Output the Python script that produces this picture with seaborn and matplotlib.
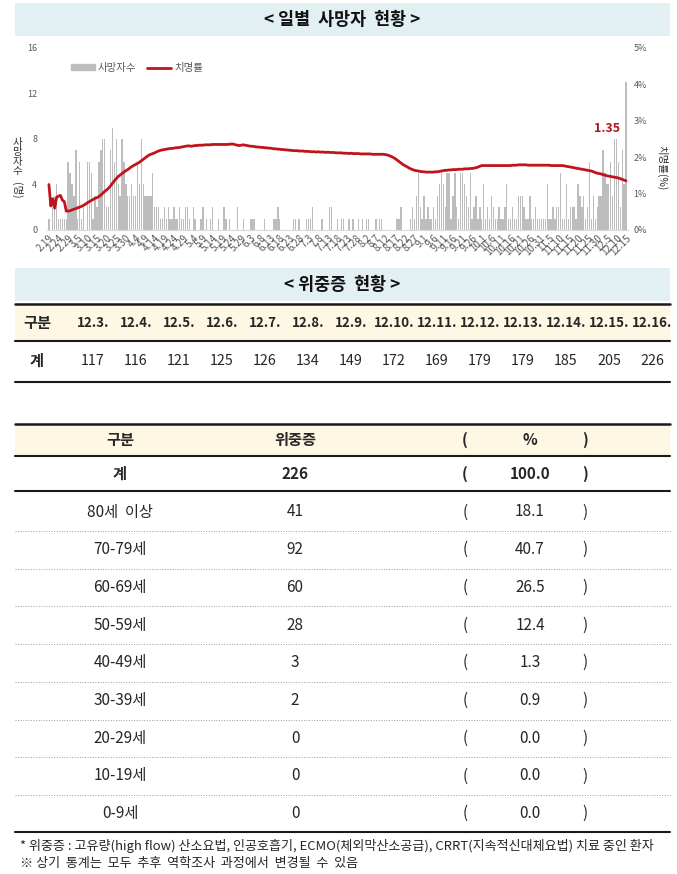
import numpy as np
import pandas as pd
import matplotlib
matplotlib.use('Agg')
import matplotlib.pyplot as plt
import seaborn as sns
from matplotlib.patches import Rectangle, Patch
from matplotlib.lines import Line2D

# daily deaths, 2.19 ~ 12.15
deaths_feb = [1, 0, 2, 3, 4, 1, 1, 1, 1, 1, 6]
deaths_mar = [5, 4, 3, 7, 1, 6, 1, 2, 0, 6, 6, 5, 1, 3, 2, 6, 7, 8, 8, 2, 2, 7, 9, 6, 8, 4, 3, 8, 6, 4, 3]
deaths_apr = [3, 4, 3, 3, 6, 4, 8, 4, 3, 3, 3, 3, 5, 2, 2, 2, 1, 1, 2, 1, 2, 1, 1, 2, 1, 1, 2, 1, 1, 2]
deaths_may = [2, 1, 0, 2, 1, 0, 0, 1, 2, 0, 1, 0, 1, 2, 0, 0, 1, 0, 0, 2, 1, 0, 1, 0, 0, 0, 2, 0, 0, 1, 0]
deaths_jun = [0, 0, 1, 1, 1, 0, 0, 0, 0, 1, 0, 0, 0, 0, 1, 1, 2, 1, 0, 0, 0, 0, 0, 0, 1, 1, 0, 1, 0, 0]
deaths_jul = [0, 1, 1, 1, 2, 0, 0, 0, 0, 1, 0, 0, 0, 2, 2, 0, 0, 1, 0, 1, 1, 0, 0, 1, 0, 1, 0, 0, 1, 0, 1]
deaths_aug = [0, 1, 1, 0, 0, 0, 1, 0, 1, 1, 0, 0, 0, 0, 0, 0, 0, 1, 1, 2, 0, 0, 0, 0, 1, 2, 1, 3, 5, 2, 1]
deaths_sep = [3, 1, 2, 1, 1, 2, 1, 3, 4, 5, 4, 2, 5, 5, 1, 3, 5, 2, 1, 5, 5, 4, 3, 2, 5, 1, 2, 3, 1, 2]
deaths_oct = [1, 4, 1, 2, 1, 3, 2, 1, 1, 2, 1, 1, 2, 4, 1, 1, 2, 1, 1, 3, 3, 3, 2, 1, 1, 3, 1, 1, 2, 1, 1]
deaths_nov = [1, 1, 1, 4, 1, 1, 2, 1, 2, 2, 5, 1, 1, 4, 1, 2, 2, 2, 1, 4, 3, 2, 3, 1, 2, 6, 1, 3, 1, 2]
deaths_dec = [3, 3, 7, 5, 4, 4, 6, 3, 8, 8, 6, 2, 7, 4, 13]

# case fatality rate (%)
cfr_feb = [1.25, 0.66, 0.86, 0.60, 0.90, 0.93, 0.95, 0.82, 0.78, 0.52, 0.52]
cfr_mar = [0.53, 0.55, 0.57, 0.59, 0.61, 0.63, 0.65, 0.68, 0.71, 0.75, 0.78, 0.81, 0.84, 0.87, 0.89, 0.92,
           0.96, 1.01, 1.06, 1.10, 1.15, 1.21, 1.28, 1.35, 1.41, 1.47, 1.51, 1.55, 1.59, 1.63, 1.66]
cfr_apr = [1.70, 1.74, 1.77, 1.80, 1.83, 1.86, 1.90, 1.94, 1.98, 2.02, 2.06, 2.08, 2.10, 2.12, 2.15,
           2.17, 2.19, 2.20, 2.21, 2.22, 2.23, 2.24, 2.24, 2.25, 2.26, 2.26, 2.27, 2.28, 2.29, 2.30]
cfr_may = [2.31, 2.31, 2.30, 2.31, 2.32, 2.32, 2.33, 2.33, 2.33, 2.34, 2.34, 2.34, 2.34, 2.35, 2.35, 2.35,
           2.35, 2.35, 2.35, 2.35, 2.35, 2.35, 2.36, 2.36, 2.36, 2.34, 2.33, 2.32, 2.33, 2.34, 2.33]
cfr_jun = [2.32, 2.31, 2.30, 2.30, 2.29, 2.28, 2.28, 2.27, 2.27, 2.26, 2.26, 2.25, 2.25, 2.24, 2.23,
           2.23, 2.22, 2.22, 2.21, 2.21, 2.20, 2.20, 2.19, 2.19, 2.18, 2.18, 2.18, 2.17, 2.17, 2.17]
cfr_jul = [2.16, 2.16, 2.16, 2.15, 2.15, 2.15, 2.14, 2.15, 2.14, 2.14, 2.14, 2.13, 2.14, 2.13, 2.13, 2.13,
           2.12, 2.12, 2.12, 2.12, 2.11, 2.11, 2.11, 2.10, 2.11, 2.10, 2.10, 2.10, 2.10, 2.09, 2.09]
cfr_aug = [2.09, 2.09, 2.09, 2.09, 2.08, 2.08, 2.08, 2.08, 2.08, 2.08, 2.08, 2.07, 2.06, 2.04, 2.02, 1.99,
           1.96, 1.92, 1.88, 1.84, 1.80, 1.77, 1.74, 1.71, 1.68, 1.66, 1.64, 1.63, 1.62, 1.61, 1.60]
cfr_sep = [1.60, 1.59, 1.59, 1.59, 1.59, 1.59, 1.60, 1.60, 1.61, 1.62, 1.63, 1.64, 1.64, 1.65, 1.65,
           1.66, 1.66, 1.66, 1.67, 1.67, 1.67, 1.68, 1.68, 1.68, 1.69, 1.69, 1.70, 1.71, 1.73, 1.75]
cfr_oct = [1.77, 1.77, 1.77, 1.77, 1.77, 1.77, 1.77, 1.77, 1.77, 1.77, 1.77, 1.77, 1.77, 1.77, 1.77, 1.77,
           1.78, 1.78, 1.78, 1.79, 1.79, 1.79, 1.79, 1.79, 1.78, 1.78, 1.78, 1.78, 1.78, 1.78, 1.78]
cfr_nov = [1.78, 1.78, 1.78, 1.78, 1.78, 1.77, 1.77, 1.77, 1.77, 1.77, 1.77, 1.77, 1.76, 1.75, 1.74,
           1.73, 1.72, 1.71, 1.70, 1.69, 1.68, 1.67, 1.66, 1.65, 1.64, 1.63, 1.62, 1.60, 1.58, 1.56]
cfr_dec = [1.55, 1.54, 1.52, 1.51, 1.49, 1.48, 1.47, 1.46, 1.45, 1.44, 1.43, 1.41, 1.39, 1.37, 1.35]

date_labels = ['2.19', '2.24', '2.29', '3.5', '3.10', '3.15', '3.20', '3.25', '3.30', '4.4', '4.9',
               '4.14', '4.19', '4.24', '4.29', '5.4', '5.9', '5.14', '5.19', '5.24', '5.29', '6.3',
               '6.8', '6.13', '6.18', '6.23', '6.28', '7.3', '7.8', '7.13', '7.18', '7.23', '7.28',
               '8.2', '8.7', '8.12', '8.17', '8.22', '8.27', '9.1', '9.6', '9.11', '9.16', '9.21',
               '9.26', '10.1', '10.6', '10.11', '10.16', '10.21', '10.26', '10.31', '11.5', '11.10',
               '11.15', '11.20', '11.25', '11.30', '12.5', '12.10', '12.15']

# severe cases table
severe_dates = ['12.3.', '12.4.', '12.5.', '12.6.', '12.7.', '12.8.', '12.9.', '12.10.', '12.11.',
                '12.12.', '12.13.', '12.14.', '12.15.', '12.16.']
severe_total = [117, 116, 121, 125, 126, 134, 149, 172, 169, 179, 179, 185, 205, 226]

age_groups = ['80세  이상', '70-79세', '60-69세', '50-59세', '40-49세', '30-39세', '20-29세', '10-19세', '0-9세']
age_counts = [41, 92, 60, 28, 3, 2, 0, 0, 0]
age_pct = ['18.1', '40.7', '26.5', '12.4', '1.3', '0.9', '0.0', '0.0', '0.0']

deaths = (deaths_feb + deaths_mar + deaths_apr + deaths_may + deaths_jun + deaths_jul
          + deaths_aug + deaths_sep + deaths_oct + deaths_nov + deaths_dec)
cfr = (cfr_feb + cfr_mar + cfr_apr + cfr_may + cfr_jun + cfr_jul
       + cfr_aug + cfr_sep + cfr_oct + cfr_nov + cfr_dec)
assert len(deaths) == len(cfr) == 301

df = pd.DataFrame({'day': np.arange(len(deaths)), 'deaths': deaths, 'cfr': cfr})

sns.set_theme(style='white')
plt.rcParams['font.family'] = ['Noto Sans CJK KR', 'DejaVu Sans']

W, H = 677, 874
fig = plt.figure(figsize=(W / 100, H / 100), dpi=100)

# page overlay in pixel coordinates
ov = fig.add_axes([0, 0, 1, 1], zorder=0)
ov.set_xlim(0, W)
ov.set_ylim(H, 0)
ov.axis('off')

banner_col = '#e3f0f3'
cream = '#fdf7e4'
dark = '#1a1a1a'
bar_col = '#bdbdbd'
line_col = '#c0141c'

# banners
for y0, title in [(3, '< 일별  사망자  현황 >'), (268, '< 위중증  현황 >')]:
    ov.add_patch(Rectangle((15, y0), 655, 33, color=banner_col, lw=0))
    ov.text(342, y0 + 17, title, ha='center', va='center', fontsize=12.5, fontweight='bold', color='#111111')

# chart
ax = fig.add_axes([47 / W, 1 - 230 / H, (628 - 47) / W, 182 / H], zorder=1)
ax.patch.set_visible(False)
sns.barplot(data=df, x='day', y='deaths', color=bar_col, saturation=1, width=0.7,
            errorbar=None, edgecolor='none', linewidth=0, ax=ax)
ax.set_xlim(-1, len(deaths))
ax.set_ylim(0, 16)
ax.set_yticks([0, 4, 8, 12, 16])
ax.set_xticks(df['day'][::5])
ax.set_xticklabels(date_labels, rotation=45, ha='right', rotation_mode='anchor',
                   fontsize=7, color='#595959')
ax.tick_params(axis='y', length=0, labelsize=6.5, labelcolor='#595959', pad=7)
ax.tick_params(axis='x', length=0, pad=2)
ax.set_xlabel('')
ax.set_ylabel('')
for s in ['top', 'left', 'right']:
    ax.spines[s].set_visible(False)
ax.spines['bottom'].set_color('#d9d9d9')
ax.spines['bottom'].set_linewidth(0.8)

ax2 = ax.twinx()
sns.lineplot(data=df, x='day', y='cfr', color=line_col, lw=2, ax=ax2)
ax2.set_ylim(0, 5)
ax2.set_yticks([0, 1, 2, 3, 4, 5])
ax2.set_yticklabels([f'{v}%' for v in range(6)])
ax2.tick_params(axis='y', length=0, labelsize=6.5, labelcolor='#595959', pad=4)
ax2.set_ylabel('')
for s in ax2.spines.values():
    s.set_visible(False)
ax2.text(df['day'].iloc[-1] - 10, 2.78, f"{cfr[-1]:.2f}", color='#b0151c', fontsize=9,
         fontweight='bold', ha='center', va='center')

handles = [Patch(color=bar_col, label='사망자수'), Line2D([0], [0], color=line_col, lw=2, label='치명률')]
ax2.legend(handles=handles, loc='upper left', bbox_to_anchor=(0.025, 0.97), ncol=2, frameon=False,
           fontsize=7.5, labelcolor='#595959', handlelength=2.3, handleheight=0.5, columnspacing=1.0,
           handletextpad=0.3)

ov.text(17, 157, '사\n망\n자\n수', ha='center', va='center', fontsize=7.5, linespacing=0.95, color='#333333')
ov.text(17, 190, '(명)', ha='center', va='center', fontsize=7.5, rotation=270, color='#333333')
ov.text(662, 168, '치명률(%)', ha='center', va='center', fontsize=7.5, rotation=270, color='#333333')

# table 1
ov.add_patch(Rectangle((15, 304), 655, 37, color=cream, lw=0))
ov.plot([15, 670], [304, 304], color=dark, lw=1.8)
ov.plot([15, 670], [341, 341], color=dark, lw=1.5)
ov.plot([15, 670], [382, 382], color=dark, lw=1.5)
ov.text(37, 323, '구분', ha='center', va='center', fontsize=11, fontweight='bold')
ov.text(37, 361, '계', ha='center', va='center', fontsize=11, fontweight='bold')
for i, (d, v) in enumerate(zip(severe_dates, severe_total)):
    cx = 93 + 43 * i
    ov.text(cx, 323, d, ha='center', va='center', fontsize=9.6, fontweight='bold')
    ov.text(cx, 361, str(v), ha='center', va='center', fontsize=10.3)

# table 2
cols = [120, 295, 465, 530, 585]
ov.add_patch(Rectangle((15, 424), 655, 32, color=cream, lw=0))
ov.plot([15, 670], [424, 424], color=dark, lw=1.8)
ov.plot([15, 670], [456, 456], color=dark, lw=1.5)
ov.plot([15, 670], [491, 491], color=dark, lw=1.5)
for x, t in zip(cols, ['구분', '위중증', '(', '%', ')']):
    ov.text(x, 440, t, ha='center', va='center', fontsize=11, fontweight='bold')
for x, t in zip(cols, ['계', str(sum(age_counts)), '(', '100.0', ')']):
    ov.text(x, 474, t, ha='center', va='center', fontsize=11, fontweight='bold')

row_y = 512
for k, (g, c, p) in enumerate(zip(age_groups, age_counts, age_pct)):
    y = row_y + 37.7 * k
    for x, t in zip(cols, [g, str(c), '(', p, ')']):
        ov.text(x, y, t, ha='center', va='center', fontsize=11)
    if k < len(age_groups) - 1:
        ov.plot([15, 670], [y + 19, y + 19], color='#9a9a9a', lw=0.7, ls=':')
ov.plot([15, 670], [832, 832], color=dark, lw=1.5)

ov.text(20, 846, '* 위중증 : 고유량(high flow) 산소요법, 인공호흡기, ECMO(체외막산소공급), CRRT(지속적신대체요법) 치료 중인 환자',
        ha='left', va='center', fontsize=9.4)
ov.text(20, 864, '※ 상기  통계는  모두  추후  역학조사  과정에서  변경될  수  있음', ha='left', va='center', fontsize=9.4)

fig.savefig('out.png', dpi=100)
